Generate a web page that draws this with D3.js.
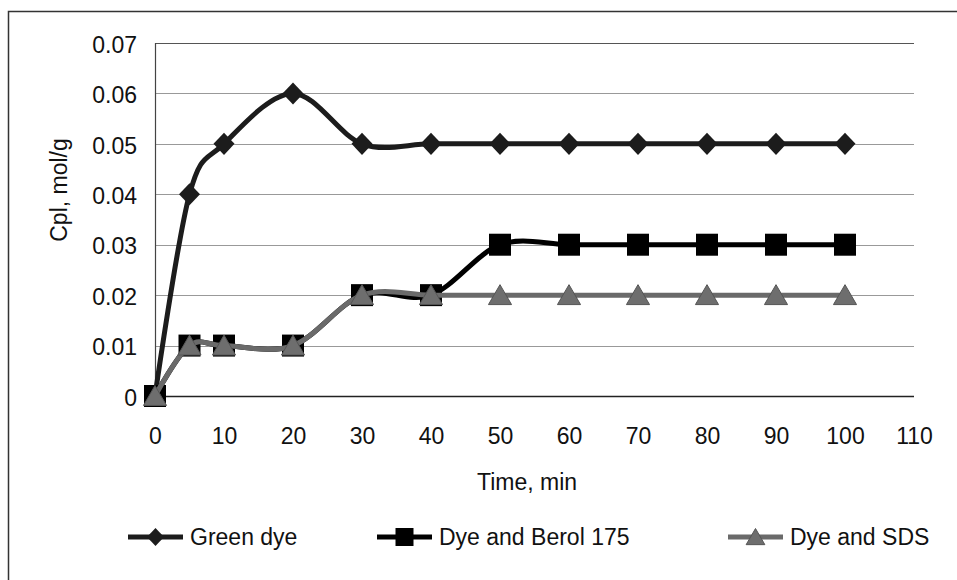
<!DOCTYPE html>
<html>
<head>
<meta charset="utf-8">
<script src="https://cdn.jsdelivr.net/npm/d3@7/dist/d3.min.js"></script>
<style>
    body { margin: 0; background: #fff; }
    svg text {
        font-family: "Liberation Sans", Arial, Helvetica, sans-serif;
        font-size: 23px;
        fill: #111;
    }
</style>
</head>
<body>
<svg id="chart" width="957" height="580"></svg>
<script>
// data
var times      = [0, 5, 10, 20, 30, 40, 50, 60, 70, 80, 90, 100];
var greenDye   = [0, 0.04, 0.05, 0.06, 0.05, 0.05, 0.05, 0.05, 0.05, 0.05, 0.05, 0.05];
var dyeBerol   = [0, 0.01, 0.01, 0.01, 0.02, 0.02, 0.03, 0.03, 0.03, 0.03, 0.03, 0.03];
var dyeSDS     = [0, 0.01, 0.01, 0.01, 0.02, 0.02, 0.02, 0.02, 0.02, 0.02, 0.02, 0.02];
var seriesNames = ["Green dye", "Dye and Berol 175", "Dye and SDS"];
var xTicks = [0, 10, 20, 30, 40, 50, 60, 70, 80, 90, 100, 110];
var yTicks = [0, 0.01, 0.02, 0.03, 0.04, 0.05, 0.06, 0.07];

var svg = d3.select("#chart");

var x = d3.scaleLinear().domain([0, 110]).range([155, 914]);
var y = d3.scaleLinear().domain([0, 0.07]).range([396, 43]);

// outer frame (cut off at right and bottom)
svg.append("rect")
    .attr("x", 8.5).attr("y", 11.5)
    .attr("width", 1000).attr("height", 1000)
    .attr("fill", "none")
    .attr("stroke", "#333")
    .attr("stroke-width", 1.5);

// horizontal gridlines
svg.append("g").selectAll("line")
    .data(yTicks)
    .enter().append("line")
    .attr("x1", x(0)).attr("x2", x(110))
    .attr("y1", function(d) { return Math.round(y(d)) + 0.5; })
    .attr("y2", function(d) { return Math.round(y(d)) + 0.5; })
    .attr("stroke", function(d) { return d === 0 ? "#222" : (d === 0.07 ? "#555" : "#999"); })
    .attr("stroke-width", function(d) { return d === 0 ? 1.5 : 1.2; });

// left axis line
svg.append("line")
    .attr("x1", x(0) + 0.5).attr("x2", x(0) + 0.5)
    .attr("y1", y(0.07)).attr("y2", y(0))
    .attr("stroke", "#444").attr("stroke-width", 1.2);

// y tick labels
var yAxis = d3.axisLeft(y).tickValues(yTicks).tickSize(0).tickPadding(18)
    .tickFormat(function(d) { return d === 0 ? "0" : d3.format(".2f")(d); });
var gy = svg.append("g").attr("transform", "translate(" + x(0) + ",0)").call(yAxis);
gy.select(".domain").remove();
gy.selectAll("text").attr("dy", "0.40em").style("font-size", "23px").attr("fill", "#111");

// x tick labels
var xAxis = d3.axisBottom(x).tickValues(xTicks).tickSize(0).tickPadding(32);
var gx = svg.append("g").attr("transform", "translate(0," + y(0) + ")").call(xAxis);
gx.select(".domain").remove();
gx.selectAll("text").attr("dy", "0.71em").style("font-size", "23px").attr("fill", "#111");

// axis titles
svg.append("text")
    .attr("transform", "translate(67,190) rotate(-90)")
    .attr("text-anchor", "middle")
    .text("Cpl, mol/g");

svg.append("text")
    .attr("x", 527).attr("y", 490)
    .attr("text-anchor", "middle")
    .text("Time, min");

// series
var curve = d3.curveCardinal.tension(0);
var series = [
    { name: seriesNames[0], values: greenDye, color: "#1c1c1c", marker: "diamond", fill: "#1c1c1c", stroke: "none" },
    { name: seriesNames[1], values: dyeBerol, color: "#000", marker: "square", fill: "#000", stroke: "none" },
    { name: seriesNames[2], values: dyeSDS, color: "#6a6a6a", marker: "triangle", fill: "#6e6e6e", stroke: "#555" }
];

var line = d3.line()
    .x(function(d) { return x(d[0]); })
    .y(function(d) { return y(d[1]); })
    .curve(curve);

function markerPath(type, s) {
    if (type === "diamond") return "M0," + (-s * 1.05) + "L" + s + ",0L0," + (s * 1.05) + "L" + (-s) + ",0Z";
    if (type === "square") return "M" + (-s) + "," + (-s) + "H" + s + "V" + s + "H" + (-s) + "Z";
    return "M0," + (-s) + "L" + (s * 1.1) + "," + (s * 0.9) + "H" + (-s * 1.1) + "Z";
}

series.forEach(function(s) {
    var pts = times.map(function(t, i) { return [t, s.values[i]]; });
    var g = svg.append("g");
    g.append("path")
        .attr("d", line(pts))
        .attr("fill", "none")
        .attr("stroke", s.color)
        .attr("stroke-width", 5)
        .attr("stroke-linejoin", "round");
    g.selectAll("path.mk")
        .data(pts)
        .enter().append("path")
        .attr("class", "mk")
        .attr("transform", function(d) { return "translate(" + x(d[0]) + "," + y(d[1]) + ")"; })
        .attr("d", markerPath(s.marker, s.marker === "square" ? 11 : 10.5))
        .attr("fill", s.fill)
        .attr("stroke", s.stroke)
        .attr("stroke-width", 1);
});

// legend
var legendX = [128, 377, 728];
var legend = svg.append("g").selectAll("g")
    .data(series)
    .enter().append("g")
    .attr("transform", function(d, i) { return "translate(" + legendX[i] + ",537)"; });

legend.append("line")
    .attr("x1", 0).attr("x2", 55)
    .attr("stroke", function(d) { return d.color; })
    .attr("stroke-width", 5);
legend.append("path")
    .attr("transform", "translate(27.5,0)")
    .attr("d", function(d) { return markerPath(d.marker, d.marker === "square" ? 9 : 8.5); })
    .attr("fill", function(d) { return d.fill; })
    .attr("stroke", function(d) { return d.stroke; });
legend.append("text")
    .attr("x", 62).attr("y", 8)
    .text(function(d) { return d.name; });
</script>
</body>
</html>
